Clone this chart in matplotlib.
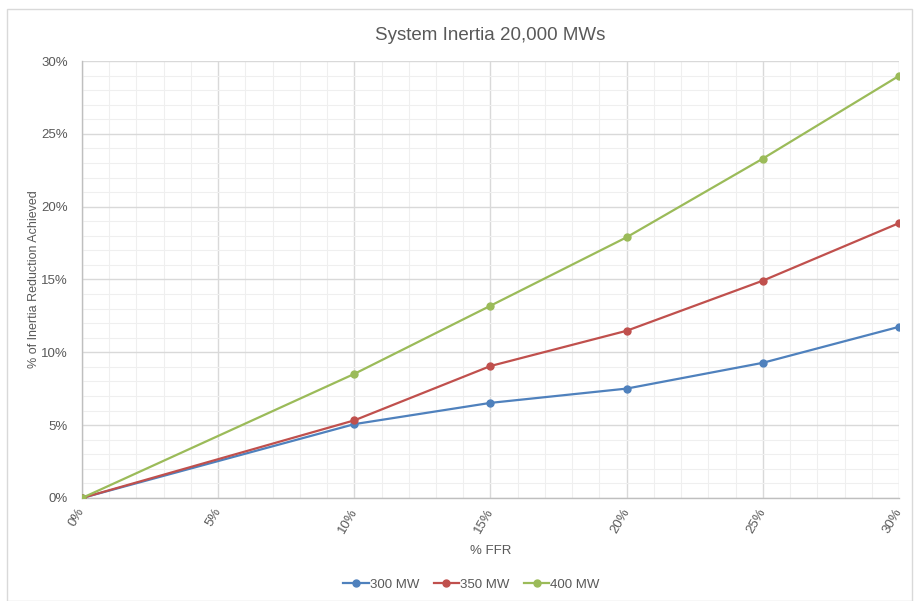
import matplotlib.pyplot as plt
from matplotlib.patches import Rectangle
from matplotlib.ticker import MultipleLocator, PercentFormatter

# % FFR (x) and % inertia reduction achieved (y)
ffr = [0, 10, 15, 20, 25, 30]
mw300 = [0, 5.07, 6.53, 7.51, 9.28, 11.75]
mw350 = [0, 5.33, 9.06, 11.48, 14.92, 18.87]
mw400 = [0, 8.52, 13.2, 17.9, 23.3, 28.98]
series_labels = ["300 MW", "350 MW", "400 MW"]
colors = ["#4F81BD", "#C0504D", "#9BBB59"]

plt.rcParams["font.family"] = ["Liberation Sans Narrow", "Liberation Sans", "DejaVu Sans"]
txt = "#595959"

fig = plt.figure(figsize=(9.14, 6.01), dpi=100)
ax = fig.add_axes([0.0897, 0.1714, 0.8939, 0.7271])

for ys, lab, c in zip([mw300, mw350, mw400], series_labels, colors):
    ax.plot(ffr, ys, color=c, lw=1.6, marker="o", ms=5, label=lab, zorder=3)

ax.set_xlim(0, 30)
ax.set_ylim(0, 30)
ax.xaxis.set_major_locator(MultipleLocator(5))
ax.xaxis.set_minor_locator(MultipleLocator(1))
ax.yaxis.set_major_locator(MultipleLocator(5))
ax.yaxis.set_minor_locator(MultipleLocator(1))
ax.xaxis.set_major_formatter(PercentFormatter(decimals=0))
ax.yaxis.set_major_formatter(PercentFormatter(decimals=0))

ax.grid(True, which="major", color="#D9D9D9", lw=1)
ax.grid(True, which="minor", color="#EFEFEF", lw=0.8)
ax.set_axisbelow(True)
for s in ["top", "right"]:
    ax.spines[s].set_visible(False)
for s in ["left", "bottom"]:
    ax.spines[s].set_color("#BFBFBF")
    ax.spines[s].set_linewidth(1)

ax.tick_params(which="both", length=0, colors=txt, labelsize=9.5)
ax.tick_params(axis="y", pad=10)
ax.tick_params(axis="x", pad=8)
for t in ax.get_xticklabels():
    t.set_rotation(60)
    t.set_rotation_mode("anchor")
    t.set_ha("right")
    t.set_va("center")

ax.set_title("System Inertia 20,000 MWs", fontsize=13.5, color=txt, pad=15)
ax.set_xlabel("% FFR", fontsize=9.5, color=txt, labelpad=7)
ax.set_ylabel("% of Inertia Reduction Achieved", fontsize=9, color=txt)
ax.yaxis.set_label_coords(-0.051, 0.5)

fig.legend(loc="center", bbox_to_anchor=(0.516, 0.027), ncol=3, frameon=False,
           fontsize=9.5, labelcolor=txt, handlelength=1.9, columnspacing=1.1,
           handletextpad=0.1)

fig.patches.append(Rectangle((0.008, 0.0), 0.99, 0.985, transform=fig.transFigure,
                             fill=False, edgecolor="#D9D9D9", lw=1))

fig.savefig("out.png", dpi=100)
